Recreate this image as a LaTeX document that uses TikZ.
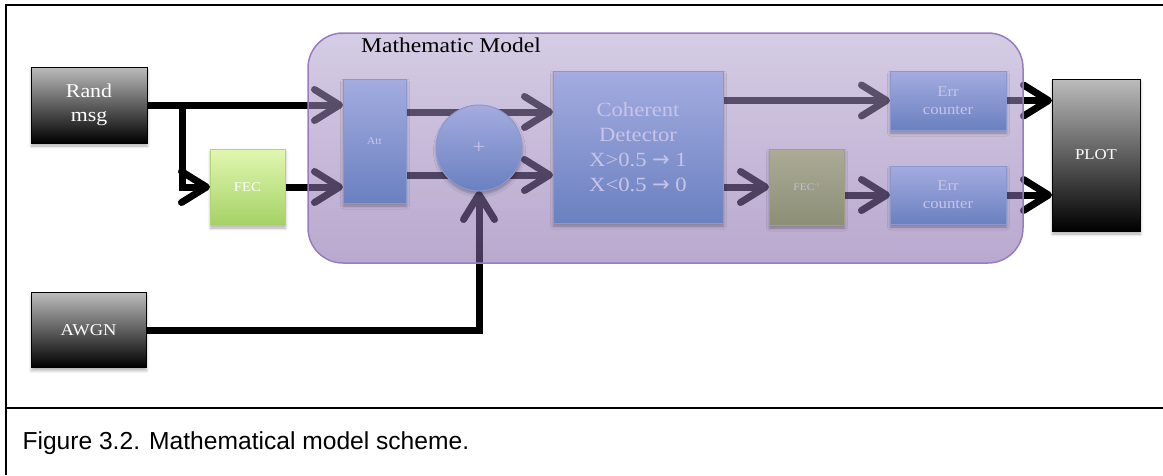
\documentclass[tikz,border=0pt]{standalone}
\usepackage{fontspec}
\setmainfont{Liberation Serif}[FakeStretch=1.12]
\newfontfamily\capfont{Liberation Sans}
\newfontfamily\symfont{DejaVu Sans}
\usetikzlibrary{arrows.meta,shadows.blur,calc}

\definecolor{blueTop}{RGB}{164,172,224}
\definecolor{blueBot}{RGB}{106,128,192}
\definecolor{blueEdge}{RGB}{138,152,208}
\definecolor{paleText}{RGB}{200,196,232}
\definecolor{greenTop}{RGB}{226,247,176}
\definecolor{greenBot}{RGB}{164,210,102}
\definecolor{greenEdge}{RGB}{178,212,118}
\definecolor{oliveTop}{RGB}{172,172,150}
\definecolor{oliveBot}{RGB}{140,142,118}
\definecolor{oliveEdge}{RGB}{158,158,138}
\definecolor{oliveText}{RGB}{192,192,214}
\definecolor{greyTop}{RGB}{188,188,188}
\definecolor{modelTop}{RGB}{178,162,206}
\definecolor{modelBot}{RGB}{128,98,166}
\definecolor{modelEdge}{RGB}{152,124,194}

\pgfdeclarelayer{bg}
\pgfdeclarelayer{mid}
\pgfsetlayers{bg,mid,main}

\tikzset{
  softshadow/.style={blur shadow={shadow xshift=0.5pt, shadow yshift=-3pt,
      shadow blur radius=3pt, shadow opacity=32}},
  unit/.style={rectangle, inner sep=0pt, outer sep=0pt, align=center, softshadow},
  blueblock/.style={unit, draw=blueEdge, line width=1pt, top color=blueTop,
      bottom color=blueBot, text=paleText},
  darkblock/.style={unit, draw=black, line width=1pt, top color=greyTop,
      bottom color=black, text=white},
  greenblock/.style={unit, draw=greenEdge, line width=1pt, top color=greenTop,
      bottom color=greenBot, text=white},
  oliveblock/.style={unit, draw=oliveEdge, line width=1pt, top color=oliveTop,
      bottom color=oliveBot, text=oliveText},
  modelbox/.style={rectangle, rounded corners=35pt, draw=modelEdge, line width=1.5pt,
      top color=modelTop, bottom color=modelBot, fill opacity=0.55, draw opacity=1,
      inner sep=0pt, outer sep=0pt, minimum width=715pt, minimum height=230pt},
  conn/.style={line width=7pt, draw=black,
      -{Straight Barb[length=25pt, width=31pt, round]}},
  sz/.style 2 args={font=\fontsize{#1}{#2}\selectfont},
}
\newcommand\detarrow{{\symfont\fontsize{21}{25}\selectfont →}}

\begin{document}
\begin{tikzpicture}[x=1pt, y=-1pt]
\useasboundingbox (0,0) rectangle (1163,475);

% outer blocks
\node[darkblock, minimum width=116pt, minimum height=76pt, sz={19.5}{24}] (rand) at (89,105) {Rand\\msg};
\node[darkblock, minimum width=115pt, minimum height=75pt, sz={16.5}{20}] (awgn) at (88.5,330) {AWGN};
\node[greenblock, minimum width=75pt, minimum height=76pt, sz={13.2}{16}] (fec) at (247.5,187) {FEC};
\node[darkblock, minimum width=88pt, minimum height=152pt, sz={15}{18}] (plot) at (1096,155) {PLOT};

% blocks inside the model
\node[blueblock, minimum width=63pt, minimum height=124pt, sz={10.5}{12}] (att) at (374.5,141) {Att};
\node[circle, draw=blueEdge, line width=1pt, top color=blueTop, bottom color=blueBot,
      minimum size=86pt, inner sep=0pt, outer sep=0pt, text=paleText, softshadow,
      sz={20}{22}] (plus) at (479,148) {+};
\node[blueblock, minimum width=170pt, minimum height=152pt, sz={20.2}{25}] (det) at (638,147)
  {Coherent\\Detector\\X>0.5 \detarrow{} 1\\X<0.5 \detarrow{} 0};
\node[oliveblock, minimum width=75pt, minimum height=76pt, sz={10.2}{12}] (fecinv) at (806.5,187)
  {FEC\raisebox{4pt}{\fontsize{5.5}{6}\selectfont -1}};
\node[blueblock, minimum width=116pt, minimum height=59pt, sz={15}{18}] (err1) at (948,100.5) {Err\\counter};
\node[blueblock, minimum width=116pt, minimum height=58pt, sz={15}{18}] (err2) at (948,195) {Err\\counter};

% the translucent model frame
\begin{pgfonlayer}{mid}
\node[modelbox] (model) at (665.5,148) {};
\end{pgfonlayer}
\node[anchor=base, text=black, sz={21}{24}] (mtitle) at (451,52) {Mathematic Model};

% signal paths
\coordinate (split) at ($(rand.east)+(35,0)$);
\coordinate (upper) at (0,112);
\coordinate (lower) at (0,175);
\begin{pgfonlayer}{bg}
\draw[conn] (rand.east) -- (rand.east -| att.west);
\draw[conn] (split) |- (fec.west);
\draw[conn] (fec.east) -- (fec.east -| att.west);
\draw[conn] (att.east |- upper) -- (det.west |- upper);
\draw[conn] (att.east |- lower) -- (det.west |- lower);
\draw[conn] (awgn.east) -| (plus.south);
\draw[conn] (det.east |- err1.west) -- (err1.west);
\draw[conn] (det.east |- fecinv.west) -- (fecinv.west);
\draw[conn] (fecinv.east |- err2.west) -- (err2.west);
\draw[conn] (err1.east) -- (err1.east -| plot.west);
\draw[conn] (err2.east) -- (err2.east -| plot.west);
\end{pgfonlayer}

% figure frame and caption
\draw[line width=2.5pt] (1163,5) -- (6,5) -- (6,475);
\draw[line width=2pt] (6,408) -- (1163,408);
\node[anchor=base west, font=\capfont\fontsize{24.6}{28}\selectfont] (caption) at (19,449)
  {Figure 3.2. Mathematical model scheme.};
\end{tikzpicture}
\end{document}
